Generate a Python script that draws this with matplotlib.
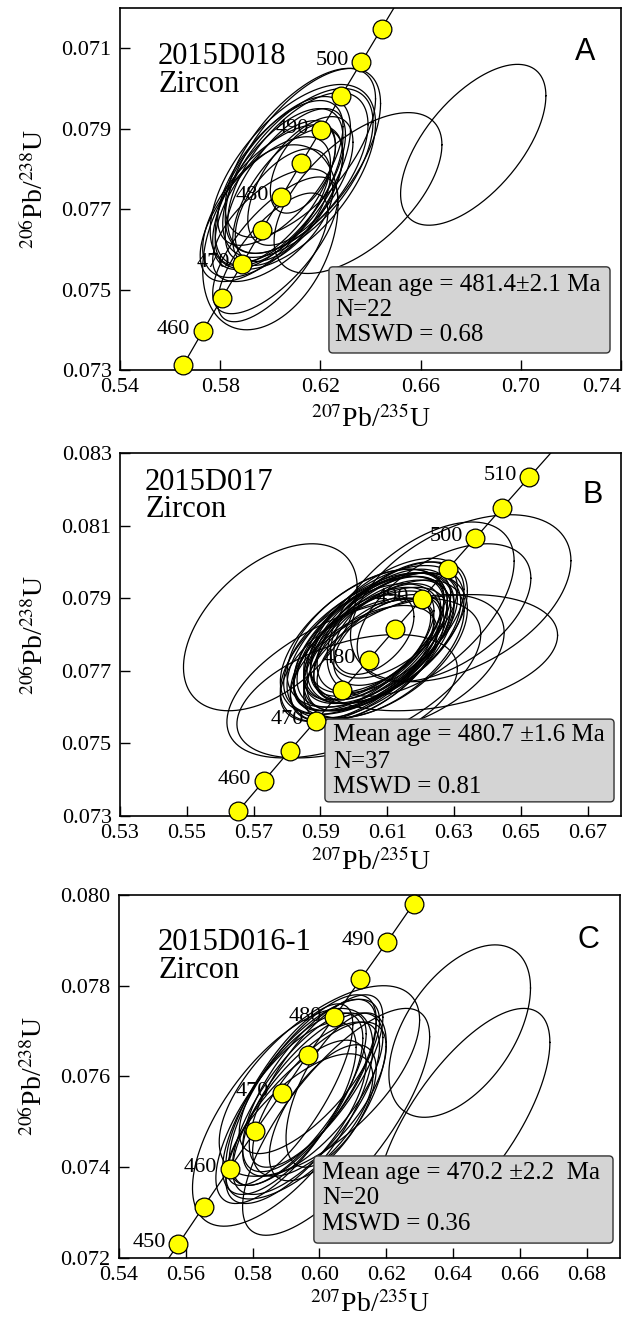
import numpy as np
import matplotlib
matplotlib.use('Agg')
import matplotlib.pyplot as plt
from matplotlib.patches import FancyBboxPatch

plt.rcParams['font.family'] = 'Liberation Serif'
plt.rcParams['mathtext.fontset'] = 'stix'

# Concordia reference points (age in Ma, 207Pb/235U, 206Pb/238U)
conc_age = [445, 450, 455, 460, 465, 470, 475, 480, 485, 490, 495, 500, 505, 510, 515]
conc_x = [0.5500, 0.5577, 0.5653, 0.5731, 0.5808, 0.5887, 0.5965, 0.6044,
          0.6123, 0.6203, 0.6282, 0.6363, 0.6444, 0.6525, 0.6606]
conc_y = [0.07147, 0.07230, 0.07313, 0.07397, 0.07480, 0.07563, 0.07647, 0.07730,
          0.07814, 0.07897, 0.07981, 0.08065, 0.08149, 0.08233, 0.08317]

# Panel A - 2015D018 (22 analyses): centre x, centre y, x half-range, y half-range, rho
a_cx = [0.609, 0.613, 0.605, 0.603, 0.611, 0.601, 0.606, 0.611, 0.604, 0.602, 0.607,
        0.612, 0.605, 0.613, 0.598, 0.601, 0.602, 0.600, 0.601, 0.612, 0.635, 0.681]
a_cy = [0.0778, 0.0782, 0.0777, 0.0775, 0.0779, 0.0772, 0.0776, 0.0779, 0.0779, 0.0774, 0.0773,
        0.0777, 0.0771, 0.0780, 0.0770, 0.0766, 0.0761, 0.0763, 0.0758, 0.0784, 0.0774, 0.0786]
a_sx = [0.033, 0.031, 0.027, 0.026, 0.030, 0.028, 0.024, 0.028, 0.025, 0.024, 0.022,
        0.021, 0.019, 0.013, 0.026, 0.024, 0.025, 0.027, 0.022, 0.030, 0.0335, 0.029]
a_sy = [0.0023, 0.0023, 0.0021, 0.0020, 0.0021, 0.0019, 0.0019, 0.0020, 0.0018, 0.0018, 0.0017,
        0.0016, 0.0014, 0.0011, 0.0018, 0.0014, 0.0017, 0.0023, 0.0016, 0.0021, 0.0020, 0.0020]
a_rho = [0.58, 0.62, 0.62, 0.64, 0.60, 0.62, 0.66, 0.60, 0.64, 0.66, 0.62,
         0.60, 0.55, 0.50, 0.64, 0.62, 0.70, 0.35, 0.70, 0.64, 0.60, 0.61]

# Panel B - 2015D017 (37 analyses)
b_cx = [0.604, 0.610, 0.606, 0.608, 0.602, 0.607, 0.609, 0.605, 0.603, 0.611, 0.606, 0.604,
        0.608, 0.607, 0.605, 0.609, 0.603, 0.606, 0.610, 0.604, 0.607, 0.605, 0.608, 0.606,
        0.612, 0.601, 0.609, 0.606, 0.603,
        0.575, 0.600, 0.598, 0.632, 0.624, 0.627, 0.620, 0.615]
b_cy = [0.0777, 0.0781, 0.0778, 0.0779, 0.0775, 0.0777, 0.0780, 0.0776, 0.0778, 0.0782, 0.0779, 0.0774,
        0.0777, 0.0780, 0.0778, 0.0776, 0.0776, 0.0775, 0.0779, 0.0779, 0.0778, 0.0777, 0.0781, 0.0776,
        0.0784, 0.0773, 0.0778, 0.0780, 0.0772,
        0.0782, 0.0768, 0.0763, 0.0790, 0.0775, 0.0786, 0.0787, 0.0772]
b_sx = [0.025, 0.024, 0.024, 0.023, 0.024, 0.022, 0.024, 0.023, 0.025, 0.022, 0.021, 0.023,
        0.026, 0.020, 0.022, 0.024, 0.021, 0.020, 0.022, 0.024, 0.019, 0.025, 0.021, 0.017,
        0.019, 0.023, 0.015, 0.012, 0.022,
        0.026, 0.038, 0.033, 0.033, 0.037, 0.026, 0.028, 0.030]
b_sy = [0.0019, 0.0020, 0.0019, 0.0018, 0.0019, 0.0018, 0.0019, 0.0017, 0.0020, 0.0018, 0.0017, 0.0018,
        0.0020, 0.0017, 0.0018, 0.0019, 0.0017, 0.0016, 0.0018, 0.0019, 0.0016, 0.0020, 0.0017, 0.0014,
        0.0016, 0.0017, 0.0012, 0.0011, 0.0016,
        0.0023, 0.0022, 0.0017, 0.0023, 0.0016, 0.0019, 0.0024, 0.0019]
b_rho = [0.55, 0.55, 0.58, 0.60, 0.55, 0.58, 0.52, 0.60, 0.55, 0.58, 0.62, 0.55,
         0.50, 0.60, 0.58, 0.55, 0.62, 0.60, 0.55, 0.52, 0.60, 0.55, 0.58, 0.62,
         0.55, 0.58, 0.50, 0.45, 0.55,
         0.48, 0.55, 0.45, 0.45, 0.30, 0.50, 0.55, 0.45]

# Panel C - 2015D016-1 (20 analyses)
c_cx = [0.592, 0.595, 0.597, 0.594, 0.590, 0.598, 0.596, 0.593, 0.599, 0.591, 0.600, 0.594,
        0.605, 0.601, 0.597,
        0.642, 0.643, 0.605, 0.600, 0.589]
c_cy = [0.0754, 0.0757, 0.0758, 0.0755, 0.0752, 0.0756, 0.0753, 0.0750, 0.0759, 0.0756, 0.0755, 0.0749,
        0.0757, 0.0752, 0.0760,
        0.0770, 0.0750, 0.0750, 0.0759, 0.0751]
c_sx = [0.021, 0.022, 0.020, 0.020, 0.021, 0.021, 0.022, 0.021, 0.020, 0.019, 0.020, 0.022,
        0.015, 0.016, 0.021,
        0.0212, 0.026, 0.028, 0.030, 0.027]
c_sy = [0.0020, 0.0021, 0.0019, 0.0019, 0.0020, 0.0018, 0.0019, 0.0018, 0.0019, 0.0020, 0.0017, 0.0016,
        0.0017, 0.0015, 0.0017,
        0.0019, 0.0025, 0.0025, 0.0021, 0.0024]
c_rho = [0.72, 0.74, 0.72, 0.76, 0.72, 0.70, 0.72, 0.72, 0.74, 0.77, 0.68, 0.68,
         0.62, 0.64, 0.72,
         0.50, 0.70, 0.75, 0.64, 0.65]

panels = [
    dict(name='A', sample='2015D018\nZircon', cx=a_cx, cy=a_cy, sx=a_sx, sy=a_sy, rho=a_rho,
         rect=[0.1896, 0.7197, 0.7915, 0.2742], xlim=(0.54, 0.74), ylim=(0.073, 0.082),
         xticks=[0.54, 0.58, 0.62, 0.66, 0.70, 0.74],
         xlabels=['0.54', '0.58', '0.62', '0.66', '0.70', '0.74'],
         yticks=[0.073, 0.075, 0.077, 0.079, 0.081],
         ylabels=['0.073', '0.075', '0.077', '0.079', '0.071'],
         labelled=[460, 470, 480, 490, 500],
         stats=['Mean age = 481.4\u00b12.1 Ma', 'N=22', 'MSWD = 0.68'],
         box=(0.417, 0.047, 0.561, 0.238), text_x=0.430, text_y=[0.235, 0.166, 0.097],
         sample_xy=(0.076, 0.905), letter_xy=(0.928, 0.878), xlab_y=-0.135),
    dict(name='B', sample='2015D017\nZircon', cx=b_cx, cy=b_cy, sx=b_sx, sy=b_sy, rho=b_rho,
         rect=[0.1896, 0.3818, 0.7915, 0.2750], xlim=(0.53, 0.68), ylim=(0.073, 0.083),
         xticks=[0.53, 0.55, 0.57, 0.59, 0.61, 0.63, 0.65, 0.67],
         xlabels=['0.53', '0.55', '0.57', '0.59', '0.61', '0.63', '0.65', '0.67'],
         yticks=[0.073, 0.075, 0.077, 0.079, 0.081, 0.083],
         ylabels=['0.073', '0.075', '0.077', '0.079', '0.081', '0.083'],
         labelled=[460, 470, 480, 490, 500, 510],
         stats=['Mean age = 480.7 \u00b11.6 Ma', 'N=37', 'MSWD = 0.81'],
         box=(0.409, 0.039, 0.577, 0.228), text_x=0.425, text_y=[0.223, 0.149, 0.080],
         sample_xy=(0.050, 0.960), letter_xy=(0.944, 0.884), xlab_y=-0.127),
    dict(name='C', sample='2015D016-1\nZircon', cx=c_cx, cy=c_cy, sx=c_sx, sy=c_sy, rho=c_rho,
         rect=[0.1880, 0.0470, 0.7915, 0.2750], xlim=(0.54, 0.69), ylim=(0.072, 0.080),
         xticks=[0.54, 0.56, 0.58, 0.60, 0.62, 0.64, 0.66, 0.68],
         xlabels=['0.54', '0.56', '0.58', '0.60', '0.62', '0.64', '0.66', '0.68'],
         yticks=[0.072, 0.074, 0.076, 0.078, 0.080],
         ylabels=['0.072', '0.074', '0.076', '0.078', '0.080'],
         labelled=[450, 460, 470, 480, 490],
         stats=['Mean age = 470.2 \u00b12.2  Ma', 'N=20', 'MSWD = 0.36'],
         box=(0.389, 0.041, 0.597, 0.240), text_x=0.405, text_y=[0.234, 0.165, 0.094],
         sample_xy=(0.078, 0.908), letter_xy=(0.936, 0.876), xlab_y=-0.128),
]

fig = plt.figure(figsize=(6.33, 13.2), dpi=100)
t = np.linspace(0, 2 * np.pi, 240)

for p in panels:
    ax = fig.add_axes(p['rect'])
    ax.set_xlim(*p['xlim'])
    ax.set_ylim(*p['ylim'])

    # error ellipses
    for cx, cy, sx, sy, r in zip(p['cx'], p['cy'], p['sx'], p['sy'], p['rho']):
        ex = cx + sx * np.cos(t)
        ey = cy + sy * (r * np.cos(t) + np.sqrt(1 - r ** 2) * np.sin(t))
        ax.plot(ex, ey, color='black', lw=0.9, zorder=3)

    # concordia curve with age markers
    ax.plot(conc_x, conc_y, color='black', lw=0.9, zorder=2)
    lo, hi = p['ylim']
    for age, x, y in zip(conc_age, conc_x, conc_y):
        if lo - 0.0002 < y < hi:
            ax.plot(x, y, 'o', ms=13.5, mfc='#ffff00', mec='black', mew=0.9,
                    zorder=6, clip_on=False)
        if age in p['labelled']:
            ax.annotate(str(age), (x, y), xytext=(-9, 1), textcoords='offset points',
                        ha='right', va='center', fontsize=16, zorder=1)

    # summary box
    bx, by, bw, bh = p['box']
    ax.add_patch(FancyBboxPatch((bx, by), bw, bh, transform=ax.transAxes,
                                boxstyle='round,pad=0,rounding_size=0.008',
                                mutation_aspect=1.38, facecolor='#d4d4d4',
                                edgecolor='#333333', lw=1.0, zorder=5))
    for line, ty in zip(p['stats'], p['text_y']):
        ax.text(p['text_x'], ty, line, transform=ax.transAxes, fontsize=18,
                ha='left', va='center', zorder=7)

    ax.text(p['sample_xy'][0], p['sample_xy'][1], p['sample'], transform=ax.transAxes,
            fontsize=22, ha='left', va='top', linespacing=0.95, zorder=7)
    ax.text(p['letter_xy'][0], p['letter_xy'][1], p['name'], transform=ax.transAxes,
            fontsize=22, family='Liberation Sans', ha='center', va='center', zorder=7)

    ax.set_xticks(p['xticks'])
    ax.set_xticklabels(p['xlabels'])
    ax.set_yticks(p['yticks'])
    ax.set_yticklabels(p['ylabels'])
    ax.tick_params(direction='in', length=7, width=1, labelsize=16)
    ax.tick_params(axis='x', pad=6)
    ax.tick_params(axis='y', pad=6)
    if p['name'] == 'A':
        ax.get_xticklabels()[-1].set_ha('right')
    for s in ax.spines.values():
        s.set_linewidth(1.2)

    ax.text(0.5, p['xlab_y'], r'$^{207}$Pb/$^{235}$U', transform=ax.transAxes,
            fontsize=20, ha='center', va='center')
    ax.text(-0.17, 0.5, r'$^{206}$Pb/$^{238}$U', transform=ax.transAxes,
            fontsize=20, ha='center', va='center', rotation=90)

fig.savefig('out.png', dpi=100)
